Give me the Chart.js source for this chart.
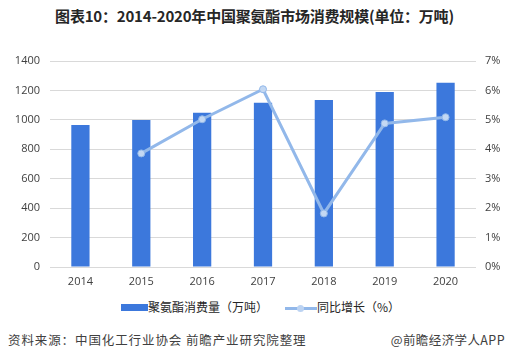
<!DOCTYPE html>
<html><head><meta charset="utf-8">
<script src="https://cdn.jsdelivr.net/npm/chart.js@4.4.0/dist/chart.umd.min.js"></script>
<style>
html,body{margin:0;padding:0;background:#fff;width:509px;height:361px;overflow:hidden;font-family:"Noto Sans CJK SC","Noto Sans",sans-serif;}
#wrap{position:absolute;left:0;top:0;width:509px;height:361px;z-index:5;}
#title{position:absolute;left:0;width:509px;top:6px;text-align:center;font-weight:bold;font-size:15px;color:#262626;line-height:20px;letter-spacing:-0.2px;}
#legend{position:absolute;left:0;width:509px;top:298px;height:18px;font-size:12px;color:#262626;}
.lg{position:absolute;top:0;line-height:18px;white-space:nowrap;}
#footer{position:absolute;left:8px;right:4px;top:331px;font-size:12.5px;color:#404040;line-height:18px;}
#footer .l{letter-spacing:0.9px;}
#footer .r{position:absolute;right:0;top:0;letter-spacing:0.4px;}
</style></head>
<body>
<div id="title">图表10：2014-2020年中国聚氨酯市场消费规模(单位：万吨)</div>
<div id="legend">
  <div class="lg" style="left:121px;"><span style="display:inline-block;width:27px;height:7px;background:#3c78dc;vertical-align:middle;position:relative;top:-1px;"></span>聚氨酯消费量（万吨）</div>
  <div class="lg" style="left:285px;"><span style="display:inline-block;position:relative;width:32px;height:18px;vertical-align:middle;top:-1px;"><span style="position:absolute;left:0;top:8px;width:32px;height:3px;background:#92b8ea;"></span><span style="position:absolute;left:12px;top:6px;width:7px;height:7px;border-radius:50%;background:#bcd3f2;border:0px;"></span></span>同比增长（%）</div>
</div>
<div id="footer"><span class="l">资料来源：中国化工行业协会 前瞻产业研究院整理</span><span class="r">@前瞻经济学人APP</span></div>
<div id="wrap"><canvas id="c" width="509" height="361"></canvas></div>
<script>
const categories = ["2014","2015","2016","2017","2018","2019","2020"];
const consumption = [965, 999, 1049, 1117, 1135, 1190, 1253];
const growth = [null, 3.86, 5.02, 6.04, 1.82, 4.88, 5.09];
const leftTicks = [0,200,400,600,800,1000,1200,1400];
const rightTicks = [0,1,2,3,4,5,6,7];

const tickFont = {family:"'Open Sans','Noto Sans',sans-serif", size:11};
new Chart(document.getElementById('c'), {
  data: {
    labels: categories,
    datasets: [
      {type:'line', label:'同比增长（%）', data: growth, yAxisID:'y2', borderColor:'#92b8ea', backgroundColor:'#bcd3f2', pointBackgroundColor:'#c3d8f3', pointBorderColor:'#92b8ea', pointBorderWidth:1, borderWidth:3, pointRadius:3.5, tension:0, order:0},
      {type:'bar', label:'聚氨酯消费量（万吨）', data: consumption, yAxisID:'y', backgroundColor:'#3c78dc', categoryPercentage:1, barPercentage:0.3, order:1}
    ]
  },
  options: {
    responsive:false, animation:false,
    layout:{padding:{left:0,right:0,top:61,bottom:64}},
    plugins:{legend:{display:false}, title:{display:false}, tooltip:{enabled:false}},
    scales:{
      x:{grid:{display:false, drawTicks:false}, border:{display:false}, ticks:{color:'#404040', font:tickFont, padding:8},
         afterFit(s){s.height=30;}},
      y:{position:'left', min:0, max:1400, grid:{color:'#d9d9d9', drawTicks:false, lineWidth:1}, border:{display:false},
         afterBuildTicks(s){s.ticks = leftTicks.map(v=>({value:v}));},
         ticks:{color:'#404040', font:tickFont, padding:10, callback:v=>String(v)},
         afterFit(s){s.width=50;}},
      y2:{position:'right', min:0, max:7, grid:{display:false, drawTicks:false}, border:{display:false},
         afterBuildTicks(s){s.ticks = rightTicks.map(v=>({value:v}));},
         ticks:{color:'#404040', font:tickFont, padding:9, callback:v=>v+'%'},
         afterFit(s){s.width=33;}}
    }
  }
});
</script>
</body></html>
